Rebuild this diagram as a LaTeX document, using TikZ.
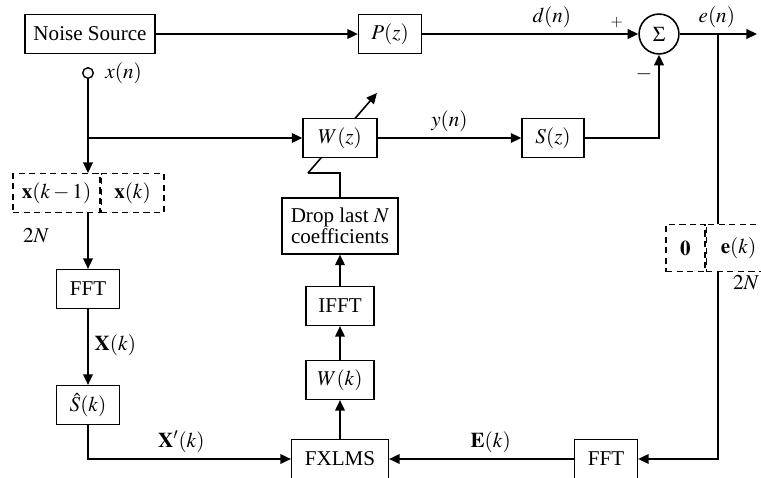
\documentclass[tikz,border=0pt]{standalone}
\usepackage{mathptmx}
\usepackage{fontspec}
\setmainfont{Liberation Serif}
\usetikzlibrary{arrows.meta,positioning}

\tikzset{
	blk/.style={draw, line width=0.9pt, fill=white, minimum height=22pt, inner sep=2pt, align=center},
	dblk/.style={blk, dash pattern=on 3.5pt off 2.5pt, line width=0.8pt},
	sig/.style={line width=0.9pt, -{Triangle[length=6pt,width=5.5pt]}},
	wire/.style={line width=0.9pt},
}

\begin{document}
\begin{tikzpicture}[x=0.02cm, y=-0.02cm, font=\fontsize{12}{14}\selectfont]
	\useasboundingbox (0,0) rectangle (761,477);
	% adaptation arrow through W(z)
	\coordinate (a1) at (308,173);
	\coordinate (a2) at (377,93);
	\draw[sig] (a1) -- (a2);
	% blocks
	\node[blk, minimum width=73.7pt] (src) at (90,34) {Noise Source};
	\node[blk, minimum width=35.7pt] (pz) at (390,34) {$P(z)$};
	\node[draw, circle, line width=0.9pt, minimum size=22.7pt, inner sep=0pt] (sum) at (659,34) {$\Sigma$};
	\node[blk, minimum width=42pt] (wz) at (340,138) {$W(z)$};
	\node[blk, minimum width=35.2pt] (sz) at (553,138) {$S(z)$};
	\node[blk, minimum width=65.8pt, minimum height=31.7pt, inner sep=1pt, font=\fontsize{12}{10}\selectfont] (drop) at (340,226) {Drop last $N$\\coefficients};
	\node[blk, minimum width=39pt] (ifft) at (340,306) {IFFT};
	\node[blk, minimum width=39pt] (wk) at (340,380) {$W(k)$};
	\node[blk, minimum width=55pt] (fx) at (340,459) {FXLMS};
	\node[blk, minimum width=35.7pt] (fftr) at (606,459) {FFT};
	\node[blk, minimum width=35.7pt] (fftl) at (88,289) {FFT};
	\node[blk, minimum width=35.7pt] (sh) at (88,405) {$\hat{S}(k)$};
	% buffers
	\node[dblk, minimum width=49.3pt] (xk1) at (56.5,193) {$\mathbf{x}(k-1)$};
	\node[dblk, minimum width=35.7pt, anchor=west] (xk) at (xk1.east) {$\mathbf{x}(k)$};
	\node[dblk, minimum width=22pt, minimum height=27pt] (z0) at (685.5,248) {$\mathbf{0}$};
	\node[dblk, minimum width=36.8pt, minimum height=27pt, anchor=west] (ek) at (z0.east) {$\mathbf{e}(k)$};
	\node (n2l) at (36,236) {$2N$};
	\node (n2r) at (746,283) {$2N$};
	% input tap
	\node[draw, circle, line width=0.8pt, minimum size=6pt, inner sep=0pt] (xn) at (88,73) {};
	\node[right=3pt of xn] (xnl) {$x(n)$};
	\coordinate (xj) at (88,138);
	\coordinate (eb) at (718,34);
	\coordinate (out) at (757,34);
	% connections
	\draw[sig] (src) -- (pz);
	\draw[sig] (pz) -- node[above, pos=0.6] (dl) {$d(n)$} node[above, pos=0.9, font=\small] (pl) {$+$} (sum);
	\draw[sig] (sum) -- node[above, pos=0.48] (el) {$e(n)$} (out);
	\draw[sig] (xn) -- (xn |- xk1.north);
	\draw[sig] (xj) -- (wz);
	\draw[sig] (wz) -- node[above, pos=0.5] (yl) {$y(n)$} (sz);
	\draw[sig] (sz) -| node[left, pos=0.88] (ml) {$-$} (sum);
	\draw[sig] (xn |- xk1.south) -- (fftl);
	\draw[sig] (fftl) -- node[right, pos=0.47] (Xl) {$\mathbf{X}(k)$} (sh);
	\draw[sig] (sh) |- node[above, pos=0.73] (Xpl) {$\mathbf{X}'(k)$} (fx);
	\draw[sig] (fx) -- (wk);
	\draw[sig] (wk) -- (ifft);
	\draw[sig] (ifft) -- (drop);
	\draw[wire] (drop) |- (a1);
	\draw[wire] (eb) -- (eb |- ek.north);
	\draw[sig] (eb |- ek.south) |- (fftr);
	\draw[sig] (fftr) -- node[above, pos=0.45] (El) {$\mathbf{E}(k)$} (fx);
\end{tikzpicture}
\end{document}
